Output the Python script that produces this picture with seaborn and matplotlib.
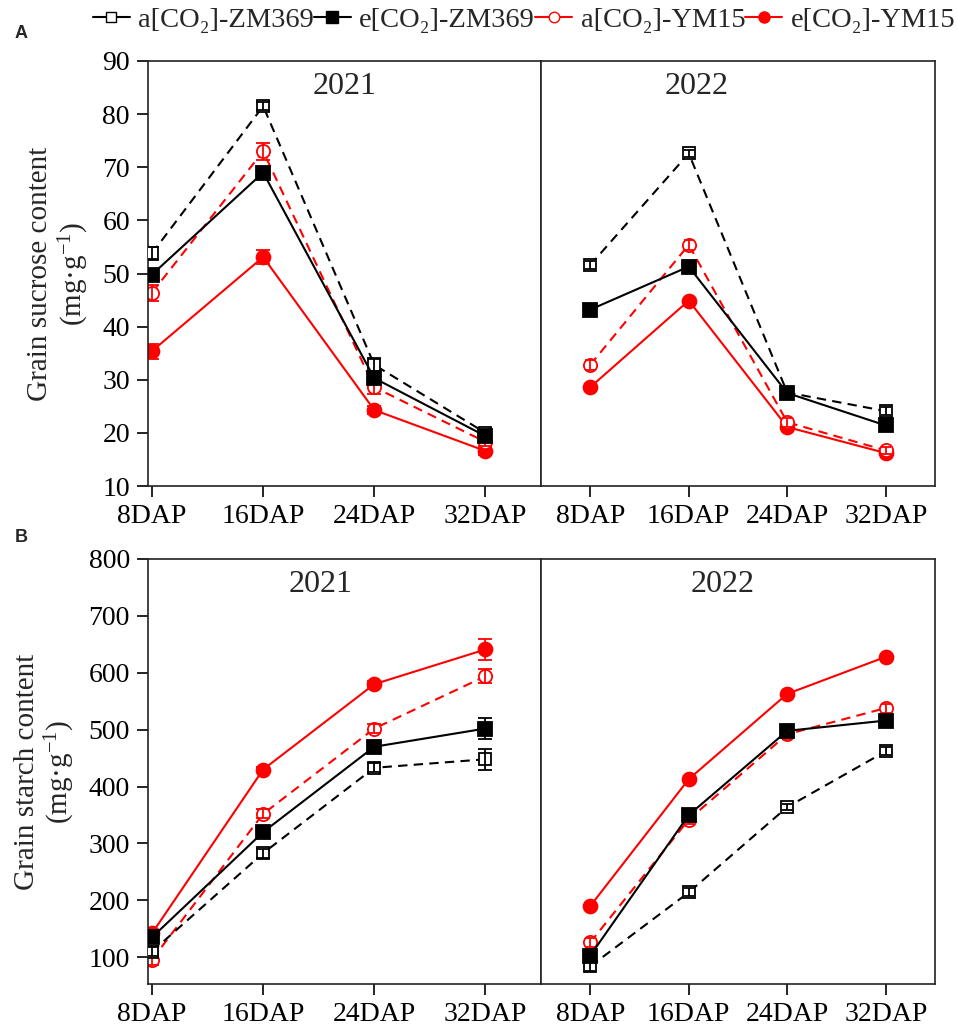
"""
Grain sucrose / starch content under ambient vs elevated CO2, two cultivars, two years.
"""

import numpy as np
import matplotlib
matplotlib.use("Agg")
import matplotlib.pyplot as plt
from matplotlib.lines import Line2D
import seaborn as sns

# ─────────────────────────────────────────────
# Data
# ─────────────────────────────────────────────

stages = ["8DAP", "16DAP", "24DAP", "32DAP"]
series = ["a[CO₂]-ZM369", "e[CO₂]-ZM369", "a[CO₂]-YM15", "e[CO₂]-YM15"]

# sucrose, mg g-1
suc_2021 = {
    "a[CO₂]-ZM369": [53.8, 81.5, 32.8, 20.0],
    "e[CO₂]-ZM369": [49.8, 69.0, 30.3, 19.4],
    "a[CO₂]-YM15":  [46.4, 73.0, 28.6, 18.3],
    "e[CO₂]-YM15":  [35.4, 53.1, 24.3, 16.6],
}
suc_2021_err = {
    "a[CO₂]-ZM369": [1.2, 0.8, 1.3, 0.6],
    "e[CO₂]-ZM369": [1.0, 0.6, 1.0, 0.5],
    "a[CO₂]-YM15":  [1.5, 1.6, 1.3, 0.8],
    "e[CO₂]-YM15":  [1.4, 1.3, 0.8, 0.8],
}
suc_2022 = {
    "a[CO₂]-ZM369": [51.6, 72.6, 27.6, 24.1],
    "e[CO₂]-ZM369": [43.2, 51.3, 27.5, 21.4],
    "a[CO₂]-YM15":  [32.8, 55.4, 22.0, 16.7],
    "e[CO₂]-YM15":  [28.6, 44.9, 21.1, 16.2],
}
suc_2022_err = {
    "a[CO₂]-ZM369": [0.7, 0.7, 0.5, 0.7],
    "e[CO₂]-ZM369": [0.6, 0.8, 0.6, 0.6],
    "a[CO₂]-YM15":  [0.9, 0.9, 0.8, 0.7],
    "e[CO₂]-YM15":  [0.6, 0.6, 0.8, 0.8],
}

# starch, mg g-1
sta_2021 = {
    "a[CO₂]-ZM369": [110, 283, 433, 448],
    "e[CO₂]-ZM369": [135, 320, 470, 502],
    "a[CO₂]-YM15":  [96, 352, 502, 594],
    "e[CO₂]-YM15":  [142, 430, 580, 641],
}
sta_2021_err = {
    "a[CO₂]-ZM369": [8, 8, 8, 18],
    "e[CO₂]-ZM369": [8, 6, 8, 18],
    "a[CO₂]-YM15":  [10, 8, 8, 12],
    "e[CO₂]-YM15":  [5, 5, 6, 19],
}
sta_2022 = {
    "a[CO₂]-ZM369": [84, 214, 364, 462],
    "e[CO₂]-ZM369": [103, 350, 498, 516],
    "a[CO₂]-YM15":  [126, 342, 492, 538],
    "e[CO₂]-YM15":  [190, 413, 563, 628],
}
sta_2022_err = {
    "a[CO₂]-ZM369": [8, 7, 6, 7],
    "e[CO₂]-ZM369": [5, 5, 5, 5],
    "a[CO₂]-YM15":  [8, 8, 8, 8],
    "e[CO₂]-YM15":  [4, 4, 4, 4],
}

# ─────────────────────────────────────────────
# Style
# ─────────────────────────────────────────────

RED = "#ff0000"
styles = {
    "a[CO₂]-ZM369": dict(color="black", marker="s", ms=8.5, mfc="white", ls=(0, (4.5, 3)), z=3),
    "e[CO₂]-ZM369": dict(color="black", marker="s", ms=10,  mfc="black", ls="-",           z=4),
    "a[CO₂]-YM15":  dict(color=RED,     marker="o", ms=9.5, mfc="white", ls=(0, (4.5, 3)), z=2),
    "e[CO₂]-YM15":  dict(color=RED,     marker="o", ms=10,  mfc=RED,     ls="-",           z=1),
}

sns.set_theme(style="ticks")
plt.rcParams["font.family"] = ["Liberation Serif", "DejaVu Serif"]
plt.rcParams["mathtext.fontset"] = "custom"
plt.rcParams["mathtext.rm"] = "Liberation Serif"
plt.rcParams["mathtext.it"] = "Liberation Serif:italic"
plt.rcParams["axes.linewidth"] = 1.2
plt.rcParams["axes.edgecolor"] = "#222222"

W, H = 957, 1029
fig = plt.figure(figsize=(W / 100, H / 100), dpi=100)

x_pos = np.arange(len(stages))


def rect(x0, x1, y0, y1):
    """pixel box -> figure fraction"""
    return [x0 / W, 1 - y1 / H, (x1 - x0) / W, (y1 - y0) / H]


def draw_panel(ax, vals, errs, capsize):
    for name in series:
        st = styles[name]
        sns.lineplot(x=x_pos, y=vals[name], ax=ax, color=st["color"],
                     linestyle=st["ls"], linewidth=1.5, marker=st["marker"],
                     markersize=st["ms"], markerfacecolor=st["mfc"],
                     markeredgecolor=st["color"], markeredgewidth=1.3,
                     zorder=st["z"])
        ax.errorbar(x_pos, vals[name], yerr=errs[name], fmt="none",
                    ecolor=st["color"], elinewidth=1.3, capsize=capsize,
                    capthick=1.3, zorder=st["z"])
    ax.set_xticks(x_pos)
    ax.set_xticklabels(stages)
    ax.tick_params(axis="both", direction="out", length=8, width=1.2,
                   labelsize=20, colors="black", pad=5)


def finish(ax_l, ax_r, ylim, yticks, ylabel, title_xl, title_xr):
    ax_l.set_xlim(-0.036, 3.5)
    ax_r.set_xlim(-0.5, 3.5)
    for ax in (ax_l, ax_r):
        ax.set_ylim(*ylim)
        ax.set_xlabel("")
        for s in ax.spines.values():
            s.set_visible(True)
    ax_l.set_yticks(yticks)
    ax_r.set_yticks([])
    ax_r.set_ylabel("")
    ax_l.set_ylabel(ylabel, fontsize=21, linespacing=1.15, labelpad=8)
    ax_l.text(title_xl, 0.94, "2021", transform=ax_l.transAxes,
              ha="center", va="center", fontsize=23)
    ax_r.text(title_xr, 0.94, "2022", transform=ax_r.transAxes,
              ha="center", va="center", fontsize=23)


# ─────────────────────────────────────────────
# Panel A: sucrose
# ─────────────────────────────────────────────

axA1 = fig.add_axes(rect(148, 541, 61, 486))
axA2 = fig.add_axes(rect(541, 935, 61, 486))
draw_panel(axA1, suc_2021, suc_2021_err, 5)
draw_panel(axA2, suc_2022, suc_2022_err, 3.5)
finish(axA1, axA2, (10, 90), np.arange(10, 91, 10),
       "Grain sucrose content\n(mg·g$^{-1}$)", 0.5, 0.396)

# ─────────────────────────────────────────────
# Panel B: starch
# ─────────────────────────────────────────────

axB1 = fig.add_axes(rect(148, 541, 559, 984))
axB2 = fig.add_axes(rect(541, 935, 559, 984))
draw_panel(axB1, sta_2021, sta_2021_err, 5)
draw_panel(axB2, sta_2022, sta_2022_err, 3.5)
finish(axB1, axB2, (53, 800), np.arange(100, 801, 100),
       "Grain starch content\n(mg·g$^{-1}$)", 0.438, 0.462)

# panel letters
fig.text(15 / W, 1 - 33 / H, "A", fontsize=13, fontweight="bold",
         family="Liberation Sans", ha="left", va="center")
fig.text(15 / W, 1 - 538 / H, "B", fontsize=13, fontweight="bold",
         family="Liberation Sans", ha="left", va="center")

# legend
handles = [
    Line2D([], [], color=styles[n]["color"], lw=1.5, marker=styles[n]["marker"],
           markersize=styles[n]["ms"] * 0.8, markerfacecolor=styles[n]["mfc"],
           markeredgecolor=styles[n]["color"])
    for n in series
]
fig.legend(handles, series, loc="center", bbox_to_anchor=(524 / W, 1 - 20 / H),
           ncol=4, frameon=False, fontsize=20.5, handlelength=1.3,
           handletextpad=0.3, columnspacing=0.0, borderaxespad=0)

fig.savefig("out.png", dpi=100)
